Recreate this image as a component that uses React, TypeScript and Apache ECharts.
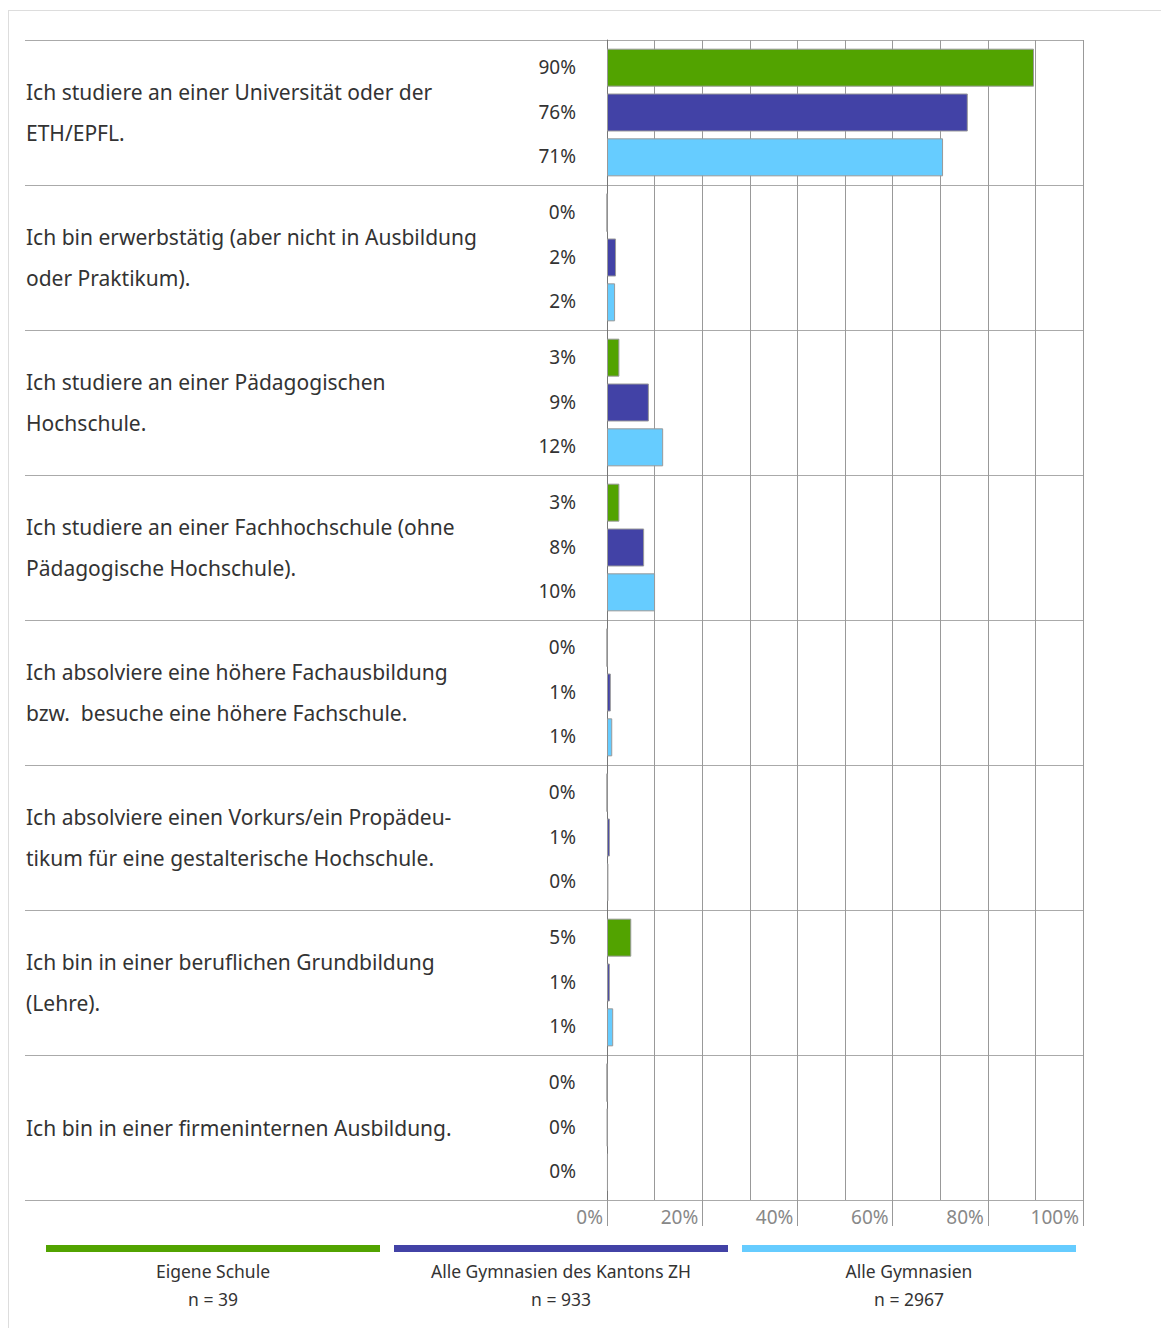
import React, { useEffect, useRef } from "react";
import * as echarts from "echarts";

const categories = [
  "Ich studiere an einer Universität oder der\nETH/EPFL.",
  "Ich bin erwerbstätig (aber nicht in Ausbildung\noder Praktikum).",
  "Ich studiere an einer Pädagogischen\nHochschule.",
  "Ich studiere an einer Fachhochschule (ohne\nPädagogische Hochschule).",
  "Ich absolviere eine höhere Fachausbildung\nbzw.  besuche eine höhere Fachschule.",
  "Ich absolviere einen Vorkurs/ein Propädeu-\ntikum für eine gestalterische Hochschule.",
  "Ich bin in einer beruflichen Grundbildung\n(Lehre).",
  "Ich bin in einer firmeninternen Ausbildung.",
];

const seriesNames = ["Eigene Schule", "Alle Gymnasien des Kantons ZH", "Alle Gymnasien"];
const seriesN = ["n = 39", "n = 933", "n = 2967"];
const seriesColors = ["#52a300", "#4242a6", "#66ccff"];

const eigeneSchule = [89.7, 0, 2.6, 2.6, 0, 0, 5.1, 0];
const alleZH = [75.8, 1.9, 8.8, 7.8, 0.8, 0.6, 0.6, 0.1];
const alleGymnasien = [70.6, 1.7, 11.8, 10.1, 1.1, 0.3, 1.3, 0.2];
const seriesValues = [eigeneSchule, alleZH, alleGymnasien];

const xTicks = [0, 20, 40, 60, 80, 100];

const FONT = "Noto Sans";

export default function App() {
  const ref = useRef<HTMLDivElement>(null);
  useEffect(() => {
    if (!ref.current) return;
    const chart = echarts.init(ref.current, null, { renderer: "svg" });
    const legendGraphics: any[] = [];
    seriesNames.forEach((name, i) => {
      const x0 = 46 + i * 348;
      legendGraphics.push({
        type: "rect",
        shape: { x: x0, y: 1245, width: 334, height: 7 },
        style: { fill: seriesColors[i] },
      });
      legendGraphics.push({
        type: "text",
        x: x0 + 167,
        y: 1271,
        style: {
          text: name,
          fontSize: 17.5,
          fontFamily: FONT,
          fill: "#333",
          align: "center",
          verticalAlign: "middle",
        },
      });
      legendGraphics.push({
        type: "text",
        x: x0 + 167,
        y: 1299,
        style: {
          text: seriesN[i],
          fontSize: 17.5,
          fontFamily: FONT,
          fill: "#333",
          align: "center",
          verticalAlign: "middle",
        },
      });
    });
    chart.setOption({
      animation: false,
      backgroundColor: "#fff",
      textStyle: { fontFamily: FONT },
      grid: { left: 607, top: 40, width: 476, height: 1160, containLabel: false },
      graphic: [
        {
          type: "line",
          shape: { x1: 8, y1: 10.5, x2: 1161, y2: 10.5 },
          style: { stroke: "#ddd", lineWidth: 1 },
        },
        {
          type: "line",
          shape: { x1: 8.5, y1: 10, x2: 8.5, y2: 1328 },
          style: { stroke: "#ddd", lineWidth: 1 },
        },
        ...legendGraphics,
      ],
      xAxis: [
        {
          type: "value",
          min: 0,
          max: 100,
          interval: 10,
          position: "bottom",
          axisLine: { show: true, lineStyle: { color: "#aaa" } },
          axisTick: { show: false },
          axisLabel: { show: false },
          splitLine: { show: true, lineStyle: { color: "#999", width: 1 } },
        },
        {
          type: "value",
          min: 0,
          max: 100,
          interval: 20,
          position: "bottom",
          axisLine: { show: false },
          axisTick: { show: true, length: 26, inside: false, lineStyle: { color: "#999" } },
          splitLine: { show: false },
          axisLabel: {
            show: true,
            margin: 7,
            align: "right",
            padding: [0, 4, 0, 0],
            fontSize: 19,
            color: "#888",
            fontFamily: FONT,
            formatter: (v: number) => (xTicks.includes(v) ? v + "%" : ""),
          },
        },
      ],
      yAxis: {
        type: "category",
        inverse: true,
        data: categories,
        boundaryGap: true,
        axisLine: { show: true, lineStyle: { color: "#777" } },
        axisTick: { show: true, length: 582, inside: false, lineStyle: { color: "#aaa" } },
        splitLine: { show: true, lineStyle: { color: "#aaa" } },
        axisLabel: {
          align: "left",
          margin: 581,
          fontSize: 21,
          lineHeight: 41,
          padding: [0, 0, 4, 0],
          color: "#333",
          fontFamily: FONT,
        },
      },
      series: seriesNames.map((name, i) => ({
        type: "bar",
        name,
        xAxisIndex: 0,
        data: seriesValues[i],
        barWidth: 38,
        barGap: "18%",
        itemStyle: { color: seriesColors[i], borderColor: "#999", borderWidth: 1 },
        label: {
          show: true,
          position: "left",
          distance: 31,
          offset: [0, -1],
          fontSize: 19,
          color: "#333",
          fontFamily: FONT,
          formatter: (p: any) => Math.round(p.value) + "%",
        },
      })),
    });
    return () => chart.dispose();
  }, []);
  return (
    <div style={{ position: "absolute", left: 0, top: 0, width: 1161, height: 1328 }}>
      <div ref={ref} style={{ width: 1161, height: 1328 }} />
    </div>
  );
}
